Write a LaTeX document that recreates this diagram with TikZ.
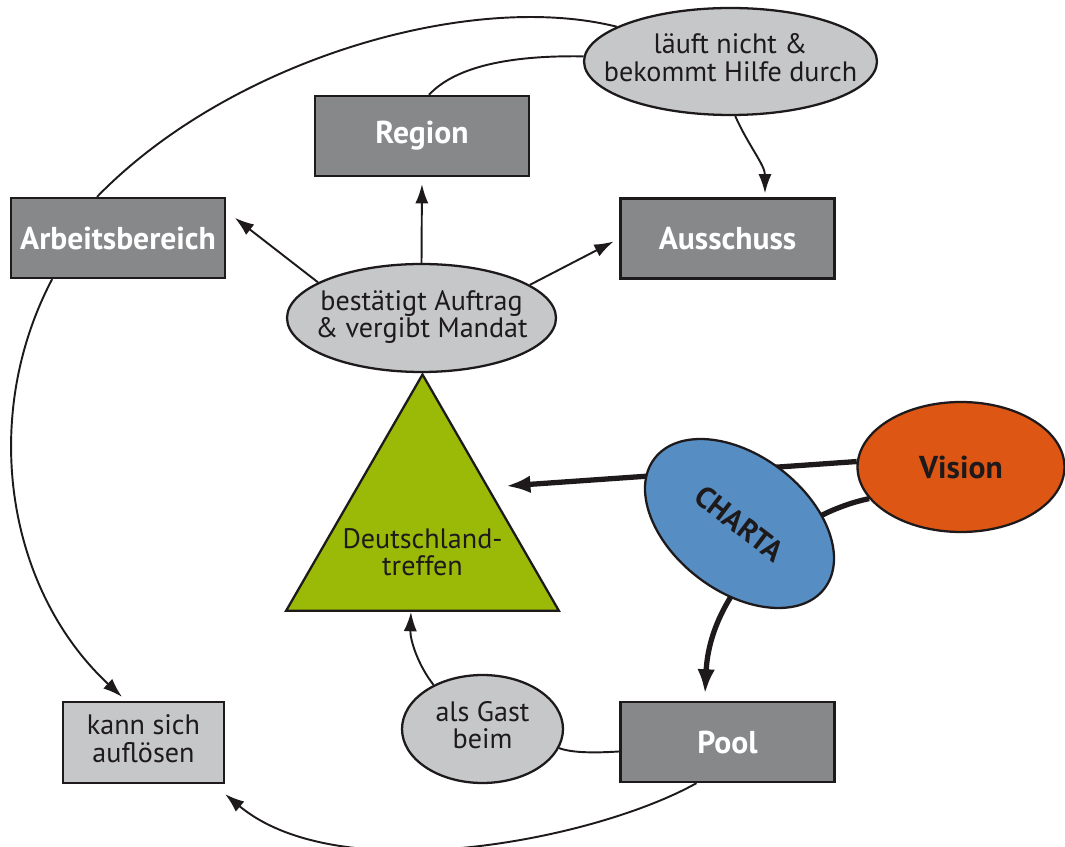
\documentclass[tikz,border=0pt]{standalone}
\usepackage{fontspec}
\setmainfont{PT Sans}
\usetikzlibrary{shapes.geometric,arrows.meta,backgrounds}

\definecolor{hellgrau}{RGB}{198,199,201}
\definecolor{dunkelgrau}{RGB}{135,136,138}
\definecolor{gruen}{RGB}{155,186,8}
\definecolor{blau}{RGB}{86,142,196}
\definecolor{visionrot}{RGB}{222,86,19}
\definecolor{linie}{RGB}{30,26,28}

% mehrzeiliger Text, der die Ellipse nicht aufblaeht
\newcommand{\zeilen}[1]{\makebox[0pt]{\begin{tabular}{@{}c@{}}#1\end{tabular}}}

\begin{document}
\begin{tikzpicture}[x=0.02cm, y=-0.02cm, >={Latex[length=11pt,width=7.5pt]}]
\tikzstyle{kasten}=[draw=linie, line width=1.3pt, fill=dunkelgrau, text=white,
                    font=\bfseries\fontsize{18}{20}\selectfont,
                    minimum width=4.28cm, minimum height=1.6cm]
\tikzstyle{blase}=[ellipse, draw=linie, line width=1.3pt, fill=hellgrau, text=linie,
                   font=\fontsize{16}{14.7}\selectfont, inner sep=0pt]
\tikzstyle{dreieck}=[regular polygon, regular polygon sides=3, draw=linie,
                     line width=1.3pt, fill=gruen, minimum size=6.3cm, inner sep=0pt]
\tikzstyle{strich}=[draw=linie, line width=1.1pt]
\tikzstyle{pfeil}=[strich, ->]
\tikzstyle{dick}=[draw=linie, line width=3pt, -{Latex[length=14pt,width=10pt]}]
\useasboundingbox (0,0) rectangle (1065,847);

\node[blase, minimum width=5.86cm, minimum height=2.14cm] (lauf) at (730.5,61.5)
     {\zeilen{läuft nicht \&\\bekommt Hilfe durch}};
\node[kasten] (region) at (422,136) {Region};
\node[kasten] (arb) at (118,238) {Arbeitsbereich};
\node[kasten] (aus) at (727.5,238.5) {Ausschuss};
\node[blase, minimum width=5.38cm, minimum height=2.16cm] (best) at (421.5,318)
     {\zeilen{bestätigt Auftrag\\\& vergibt Mandat}};
\node[dreieck, label={[text=linie, font=\fontsize{16}{14.7}\selectfont, yshift=-0.48cm]center:\zeilen{Deutschland-\\treffen}}]
     (dt) at (422.5,532) {};
\node[ellipse, draw=linie, line width=1.3pt, fill=visionrot, text=linie,
      font=\bfseries\fontsize{18}{20}\selectfont, minimum width=4.14cm, minimum height=2.6cm]
     (vision) at (961,467) {Vision};
\node[ellipse, draw=linie, line width=1.3pt, fill=blau, text=linie, rotate=-37.4,
      font=\bfseries\fontsize{17}{20}\selectfont, minimum width=4.28cm, minimum height=2.72cm]
     (charta) at (739.5,523.5) {CHARTA};
\node[blase, minimum width=3.22cm, minimum height=2.16cm] (gast) at (482.5,729)
     {\zeilen{als Gast\\beim}};
\node[kasten] (pool) at (727.5,742) {Pool};
\node[kasten, fill=hellgrau, text=linie, font=\fontsize{16}{14.7}\selectfont,
      minimum width=3.22cm, minimum height=1.62cm] (kann) at (143.5,742.5)
     {\zeilen{kann sich\\auflösen}};

\begin{pgfonlayer}{background}
\draw[strich] (lauf.163) .. controls (470,-10) and (230,60) .. (arb.117);
\draw[strich] (lauf.178) .. controls (500,55) and (452,70) .. ([xshift=0.14cm]region.north);
\draw[pfeil] (lauf.275) .. controls (748,145) and (765,165) .. ([xshift=0.75cm,yshift=0.08cm]aus.north);
\draw[pfeil, shorten >=0.22cm] (best.161) -- (arb.14);
\draw[pfeil, shorten >=0.14cm] (best.north) -- (region.south);
\draw[pfeil, shorten >=0.13cm] (best.17) -- (aus.west);
\draw[pfeil] (arb.212) .. controls (-21,418) and (7,590) .. ([xshift=-0.43cm,yshift=0.08cm]kann.north);
\draw[dick, shorten >=0.34cm] (vision.177) -- (dt.34);
\draw[dick] (vision.199) .. controls (790,515) and (710,590) .. ([xshift=-0.45cm,yshift=0.14cm]pool.north);
\draw[pfeil] (gast.138) .. controls (418,665) and (410,640) .. ([xshift=-0.23cm]dt.south);
\draw[strich] (pool.185) .. controls (595,753) and (572,753) .. (gast.346);
\draw[pfeil] (pool.233) .. controls (595,840) and (340,890) .. ([yshift=-0.2cm]kann.south east);
\end{pgfonlayer}
\end{tikzpicture}
\end{document}
